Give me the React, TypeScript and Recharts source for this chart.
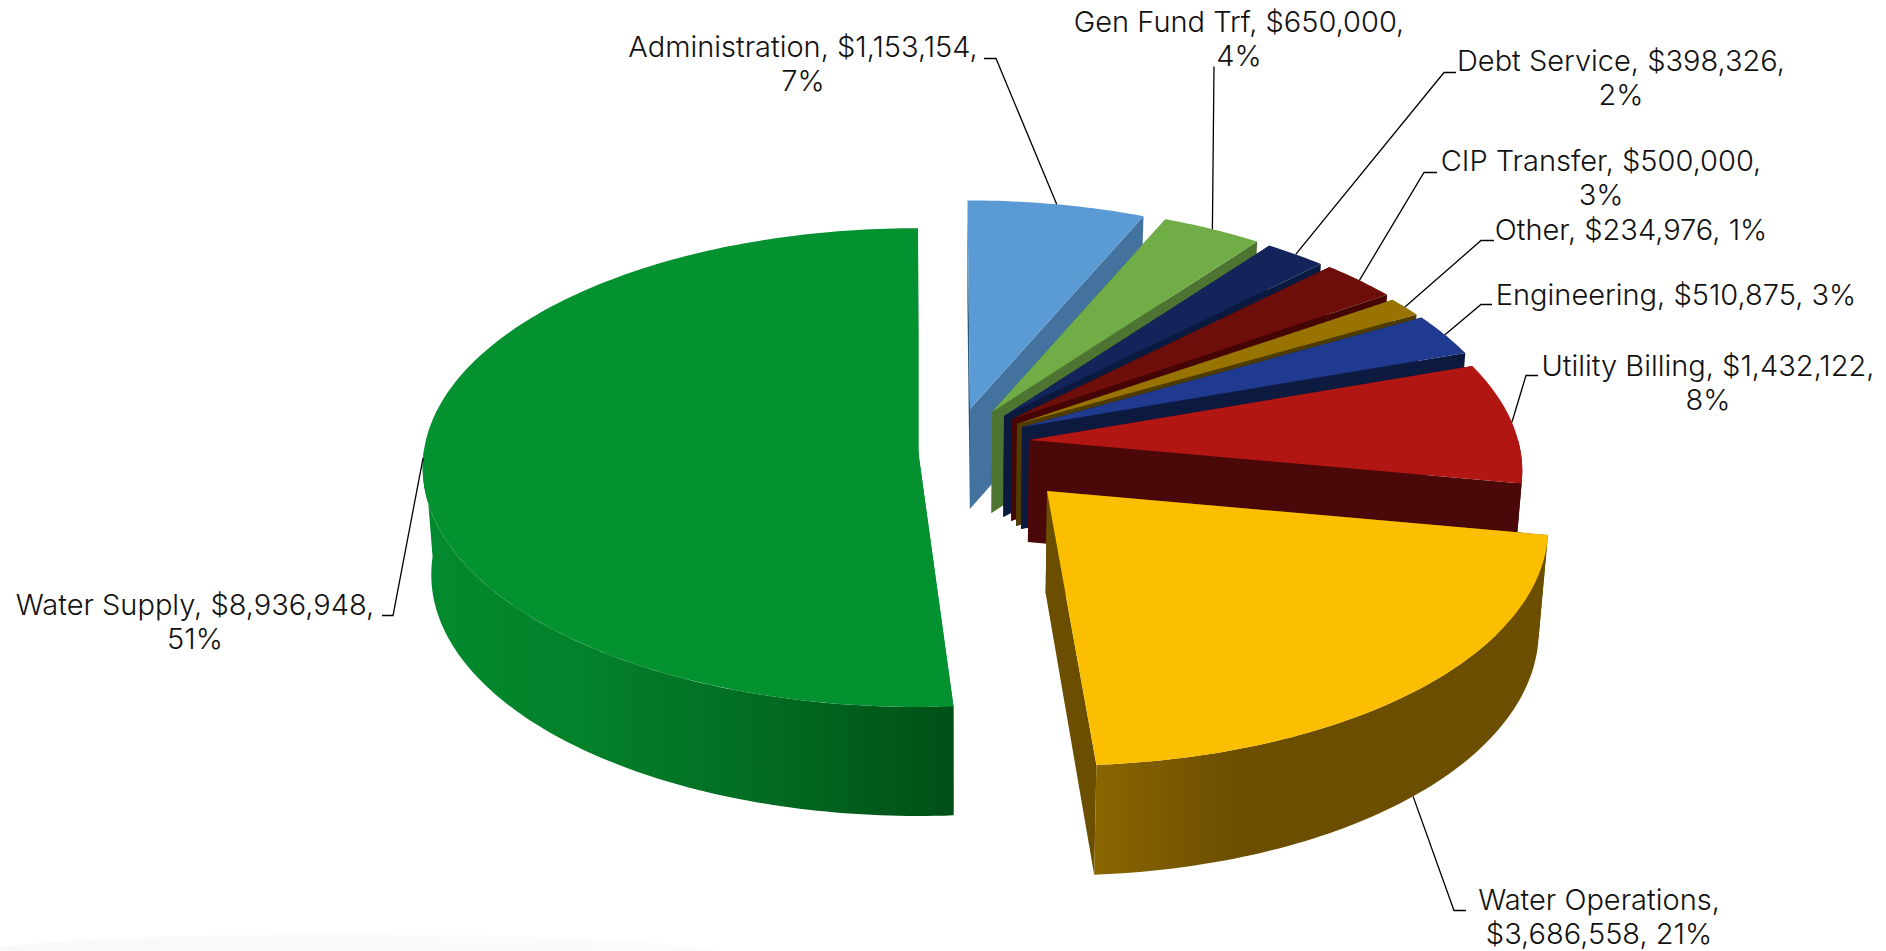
import React from 'react';
import { PieChart, Pie } from 'recharts';

// Water fund expenditures, clockwise from twelve o'clock.
const categories = [
  'Administration',
  'Gen Fund Trf',
  'Debt Service',
  'CIP Transfer',
  'Other',
  'Engineering',
  'Utility Billing',
  'Water Operations',
  'Water Supply',
];
const amounts = [1153154, 650000, 398326, 500000, 234976, 510875, 1432122, 3686558, 8936948];

const topColors = ['#5b9bd5', '#70ad47', '#12245a', '#6d0e0a', '#997300', '#1f3a8f', '#b21613', '#fbbf00', '#04912f'];
const wallColors = ['#44729e', '#4d7431', '#0a1a3f', '#450505', '#4f3c00', '#0c1a40', '#4a0808', '#6b4e00', '#03872c'];
const wallEdgeColors = ['#2f5878', '#4d7431', '#0a1a3f', '#450505', '#4f3c00', '#0c1a40', '#4a0808', '#6b4e00', '#03872c'];

// Per-wedge projection: displacement from the pie centre, perspective strength,
// overall scale, horizontal shear, and wall height (rear value plus growth toward the front).
const shiftX = [10, 32, 44, 52, 57, 62, 69, 87, -42];
const shiftY = [-41, -38, -34, -31, -26, -23, -10, 41, 0];
const perspective = [0.13, 0.13, 0.13, 0.13, 0.13, 0.13, 0.13, 0.13, 0.0734];
const spread = [0.99, 0.99, 0.99, 0.99, 0.99, 0.99, 0.99, 1.003, 1];
const shear = [0.012, 0.012, 0.01, 0.005, 0, 0, 0, 0.042, 0];
const wallDepth = [100, 101, 101, 102, 102, 102, 102, 102, 107];
const wallGrowth = [8, 8, 8, 8, 8, 8, 8, 8, 2];

// Label placement: centre x, first-line centre y, where the text wraps, elbow of the leader.
const labelX = [803, 1239, 1621, 1601, 1631, 1676, 1708, 1599, 195];
const labelY = [46, 21, 60, 160, 229, 294, 365, 899, 604];
const wrapStyle = ['pct', 'pct', 'pct', 'pct', 'none', 'none', 'pct', 'value', 'pct'];
const leaderEndX = [984, 1214, 1456, 1437, 1494, 1492, 1538, 1466, 382];
const leaderElbowX = [996, 1214, 1444, 1424, 1481, 1481, 1526, 1454, 393];
const leaderY = [58, 66, 72, 172, 240, 304, 375, 910, 615];

const rows = categories.map((name, i) => ({ name, value: amounts[i], idx: i }));

const WIDTH = 1886;
const HEIGHT = 951;
const CX = 960;
const CY = 450;
const RADIUS = 494;
const TILT = 0.482;
const TAPER = 0.016;
const FONT = 'Inter, "Noto Sans", sans-serif';

const rad = (d: number) => (d * Math.PI) / 180;

// Projects a point of wedge i (clockwise angle from the top, radius fraction, 0 top face to 1 bottom face).
function project(i: number, clockwise: number, r: number, z: number) {
  const u = Math.sin(rad(clockwise)) * r;
  const v = -Math.cos(rad(clockwise)) * r;
  const w = 1 - perspective[i] * v;
  const dy = (spread[i] * RADIUS * TILT * v) / w;
  const x = CX + shiftX[i] + (spread[i] * RADIUS * u) / w + shear[i] * dy;
  const y = CY + shiftY[i] + dy;
  if (z === 0) return { x, y };
  const depth = wallDepth[i] + wallGrowth[i] * Math.max(0, v);
  return { x: x - (x - CX) * TAPER * z, y: y + depth * z };
}

const toPath = (pts: { x: number; y: number }[]) =>
  pts.map((p, k) => `${k ? 'L' : 'M'}${p.x.toFixed(2)} ${p.y.toFixed(2)}`).join(' ') + ' Z';

function arcPoints(i: number, from: number, to: number, z: number) {
  const steps = Math.max(2, Math.ceil(Math.abs(to - from)));
  const out = [];
  for (let s = 0; s <= steps; s++) out.push(project(i, from + ((to - from) * s) / steps, 1, z));
  return out;
}

function Wedge3D(props: any) {
  const i = props.payload?.idx ?? props.idx ?? props.index;
  const from = 90 - props.startAngle;
  const to = 90 - props.endAngle;
  const apex = project(i, 0, 0, 0);
  const apexLow = project(i, 0, 0, 1);
  const a = project(i, from, 1, 0);
  const aLow = project(i, from, 1, 1);
  const b = project(i, to, 1, 0);
  const bLow = project(i, to, 1, 1);
  const top = toPath([apex, ...arcPoints(i, from, to, 0)]);

  const wallFrom = Math.max(from, 90);
  const wallTo = Math.min(to, 270);
  const hasWall = wallTo > wallFrom;
  const rim = hasWall ? [...arcPoints(i, wallFrom, wallTo, 0), ...arcPoints(i, wallTo, wallFrom, 1)] : [];
  let rimFill = wallColors[i];
  let gradient = null;
  if (hasWall && (i === 7 || i === 8)) {
    const id = `rim-${i}`;
    rimFill = `url(#${id})`;
    gradient =
      i === 8 ? (
        <linearGradient id={id} gradientUnits="userSpaceOnUse" x1={430} x2={953} y1={0} y2={0}>
          <stop offset="0" stopColor="#038a2e" />
          <stop offset="0.3" stopColor="#03802a" />
          <stop offset="0.65" stopColor="#026b21" />
          <stop offset="1" stopColor="#004f17" />
        </linearGradient>
      ) : (
        <linearGradient id={id} gradientUnits="userSpaceOnUse" x1={1096} x2={1541} y1={0} y2={0}>
          <stop offset="0" stopColor="#8a6600" />
          <stop offset="0.32" stopColor="#6b4e00" />
          <stop offset="1" stopColor="#6b4e00" />
        </linearGradient>
      );
  }

  return (
    <g>
      {gradient && <defs>{gradient}</defs>}
      <path d={toPath([apex, a, aLow, apexLow])} fill={wallEdgeColors[i]} />
      <path d={toPath([apex, b, bLow, apexLow])} fill={wallColors[i]} />
      {hasWall && <path d={toPath(rim)} fill={rimFill} />}
      <path d={top} fill={topColors[i]} />
    </g>
  );
}

const currency = (n: number) => `$${n.toLocaleString('en-US')}`;

function WedgeLabel(props: any) {
  const i = props.payload?.idx ?? props.idx ?? props.index;
  const pct = `${Math.round(props.percent * 100)}%`;
  const money = currency(props.value);
  const name = props.name;
  const wrap = wrapStyle[i];
  const lines =
    wrap === 'pct'
      ? [`${name}, ${money},`, pct]
      : wrap === 'value'
        ? [`${name},`, `${money}, ${pct}`]
        : [`${name}, ${money}, ${pct}`];
  const mid = 90 - props.midAngle;
  const onFrontWall = mid > 100 && mid < 260 ? 1 : 0;
  const start = project(i, mid, 1, onFrontWall);
  const pts = [
    `${leaderEndX[i]},${leaderY[i] + 0.5}`,
    `${leaderElbowX[i]},${leaderY[i] + 0.5}`,
    `${start.x.toFixed(1)},${start.y.toFixed(1)}`,
  ].join(' ');
  return (
    <g>
      <polyline points={pts} fill="none" stroke="#000" strokeWidth={1.3} />
      {lines.map((line, k) => (
        <text
          key={k}
          x={labelX[i]}
          y={labelY[i] + k * 34.8}
          textAnchor="middle"
          dominantBaseline="central"
          fontFamily={FONT}
          fontSize={29}
          fontWeight={300}
          fill="#111"
        >
          {line}
        </text>
      ))}
    </g>
  );
}

export default function App() {
  return (
    <div style={{ position: 'absolute', left: 0, top: 0, width: WIDTH, height: HEIGHT, background: '#fff', overflow: 'hidden' }}>
      {/* faint floor shading along the lower left edge */}
      <div
        style={{
          position: 'absolute',
          left: -20,
          top: 934,
          width: 740,
          height: 40,
          borderRadius: '50%',
          background: 'radial-gradient(ellipse at 30% 70%, #f5f6f6 0%, #f9fafa 60%, #ffffff 100%)',
        }}
      />
      <div style={{ position: 'relative' }}>
        <PieChart width={WIDTH} height={HEIGHT} margin={{ top: 0, right: 0, bottom: 0, left: 0 }}>
          <Pie
            data={rows}
            dataKey="value"
            nameKey="name"
            cx={CX}
            cy={CY}
            innerRadius={0}
            outerRadius={RADIUS}
            startAngle={90}
            endAngle={-270}
            paddingAngle={0}
            stroke="none"
            shape={Wedge3D}
            label={WedgeLabel}
            labelLine={false}
            isAnimationActive={false}
          />
        </PieChart>
      </div>
    </div>
  );
}
